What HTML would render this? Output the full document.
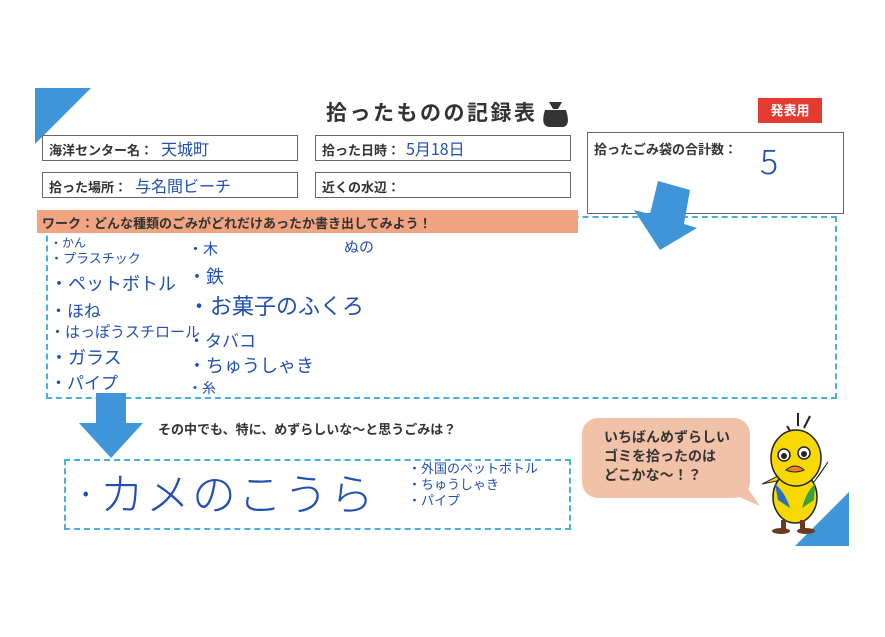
<!DOCTYPE html>
<html><head><meta charset="utf-8"><style>
body{margin:0;width:885px;height:637px;background:#fff;position:relative;overflow:hidden;font-family:"Liberation Sans","Noto Sans CJK JP",sans-serif;}
.a{position:absolute;}
.box{position:absolute;border:1.5px solid #666;box-sizing:border-box;background:#fff;}
.lbl{font-weight:bold;font-size:13px;color:#333;position:absolute;left:6px;top:4px;white-space:nowrap;}
.h{color:#1f4fb0;font-family:"Noto Sans CJK JP",sans-serif;white-space:nowrap;position:absolute;}
.dash{position:absolute;border:2px dashed #4aaee0;box-sizing:border-box;}
</style></head><body>
<svg class="a" style="left:0;top:0" width="885" height="637">
<polygon points="35,88 91,88 35,144" fill="#3f95d8"/>
<polygon points="795,546 849,492 849,546" fill="#3f95d8"/>
<rect x="582" y="418" width="168" height="80" rx="16" fill="#f2c2a8"/>
<polygon points="700,480 760,506 735,470" fill="#f2c2a8"/>
<g stroke="#222" stroke-width="2" fill="none"><line x1="787" y1="426" x2="792" y2="434"/><line x1="798" y1="413" x2="798" y2="426"/><line x1="810" y1="416" x2="804" y2="428"/></g>
<path d="M762,484 L792,478 L790,470 Z" fill="#f7d800" stroke="#222"/>
<path d="M820,474 L828,462 L814,482 Z" fill="#f7d800" stroke="#222"/>
<ellipse cx="795" cy="497" rx="22" ry="26" fill="#f7d800" stroke="#222" stroke-width="1.5"/>
<ellipse cx="796" cy="458" rx="25" ry="28" fill="#f7d800" stroke="#222" stroke-width="1.5"/>
<path d="M775,484 Q785,492 790,508 L778,500 Z" fill="#2a70c0"/>
<path d="M815,484 Q806,492 802,508 L814,500 Z" fill="#3aa040"/>
<circle cx="784" cy="455" r="6" fill="#fff" stroke="#222" stroke-width="1.5"/><circle cx="784" cy="456" r="3" fill="#222"/>
<circle cx="804" cy="453" r="6" fill="#fff" stroke="#222" stroke-width="1.5"/><circle cx="804" cy="454" r="3" fill="#222"/>
<path d="M786,470 Q795,462 804,470 Q795,474 786,470Z" fill="#f08030" stroke="#222"/>
<rect x="781" y="520" width="5" height="10" fill="#6a3a20"/><rect x="800" y="520" width="5" height="10" fill="#6a3a20"/>
<ellipse cx="781" cy="531" rx="9" ry="3" fill="#6a3a20"/><ellipse cx="806" cy="531" rx="9" ry="3" fill="#6a3a20"/>
<path d="M545,110 Q540,126 549,127 L563,127 Q571,126 566,110 Z" fill="#333"/>
<path d="M549,102 L562,102 L558,109 L553,109Z" fill="#333"/>
</svg>
<div class="a" style="left:326px;top:97px;font-size:21px;font-weight:bold;color:#333;white-space:nowrap;letter-spacing:2.5px;">拾ったものの記録表</div>
<div class="a" style="left:758px;top:98px;width:64px;height:25px;background:#e53a30;color:#fff;font-size:13px;font-weight:bold;text-align:center;line-height:25px;">発表用</div>

<div class="box" style="left:42px;top:135px;width:256px;height:26px;"><span class="lbl">海洋センター名：</span><span class="h" style="left:118px;top:0;font-size:16px;">天城町</span></div>
<div class="box" style="left:315px;top:135px;width:256px;height:26px;"><span class="lbl">拾った日時：</span><span class="h" style="left:90px;top:0;font-size:16px;">5月18日</span></div>
<div class="box" style="left:42px;top:172px;width:256px;height:26px;"><span class="lbl">拾った場所：</span><span class="h" style="left:92px;top:0;font-size:16px;">与名間ビーチ</span></div>
<div class="box" style="left:315px;top:172px;width:256px;height:26px;"><span class="lbl">近くの水辺：</span></div>
<div class="box" style="left:587px;top:132px;width:257px;height:82px;"><span class="lbl" style="top:6px;">拾ったごみ袋の合計数：</span><span class="h" style="left:172px;top:2px;font-size:34px;font-weight:200;">5</span></div>

<div class="dash" style="left:46px;top:216px;width:791px;height:183px;"></div>
<div class="a" style="left:37px;top:210px;width:541px;height:23px;background:#f0a482;"></div>
<div class="a" style="left:42px;top:213px;font-size:13px;font-weight:bold;color:#333;white-space:nowrap;">ワーク：どんな種類のごみがどれだけあったか書き出してみよう！</div>

<div class="h" style="left:50px;top:234px;font-size:12px;">・かん</div>
<div class="h" style="left:50px;top:248px;font-size:13px;">・プラスチック</div>
<div class="h" style="left:50px;top:270px;font-size:18px;">・ペットボトル</div>
<div class="h" style="left:50px;top:297px;font-size:17px;">・ほね</div>
<div class="h" style="left:50px;top:321px;font-size:15px;">・はっぽうスチロール</div>
<div class="h" style="left:50px;top:344px;font-size:18px;">・ガラス</div>
<div class="h" style="left:50px;top:369px;font-size:17px;">・パイプ</div>
<div class="h" style="left:188px;top:238px;font-size:15px;">・木</div>
<div class="h" style="left:188px;top:263px;font-size:18px;">・鉄</div>
<div class="h" style="left:188px;top:289px;font-size:22px;">・お菓子のふくろ</div>
<div class="h" style="left:188px;top:327px;font-size:17px;">・タバコ</div>
<div class="h" style="left:188px;top:352px;font-size:18px;">・ちゅうしゃき</div>
<div class="h" style="left:188px;top:378px;font-size:14px;">・糸</div>
<div class="h" style="left:344px;top:236px;font-size:15px;">ぬの</div>

<div class="a" style="left:158px;top:419px;font-size:13px;font-weight:bold;color:#333;white-space:nowrap;">その中でも、特に、めずらしいな～と思うごみは？</div>
<div class="dash" style="left:64px;top:459px;width:507px;height:71px;"></div>
<div class="h" style="left:74px;top:459px;font-size:44px;font-weight:200;letter-spacing:2px;">·カメのこうら</div>
<div class="h" style="left:408px;top:460px;font-size:13px;line-height:16px;">・外国のペットボトル<br>・ちゅうしゃき<br>・パイプ</div>

<div class="a" style="left:604px;top:428px;font-size:14px;font-weight:bold;color:#333;line-height:19px;white-space:nowrap;">いちばんめずらしい<br>ゴミを拾ったのは<br>どこかな～！？</div>

<svg class="a" style="left:0;top:0" width="885" height="637">
<polygon points="96,393 126,393 126,423 143,423 111,458 79,423 96,423" fill="#3f95d8"/>
<polygon points="658,181 690,190 684,224 697,228 660,250 634,210 650,214" fill="#3f95d8"/>
</svg>
</body></html>
